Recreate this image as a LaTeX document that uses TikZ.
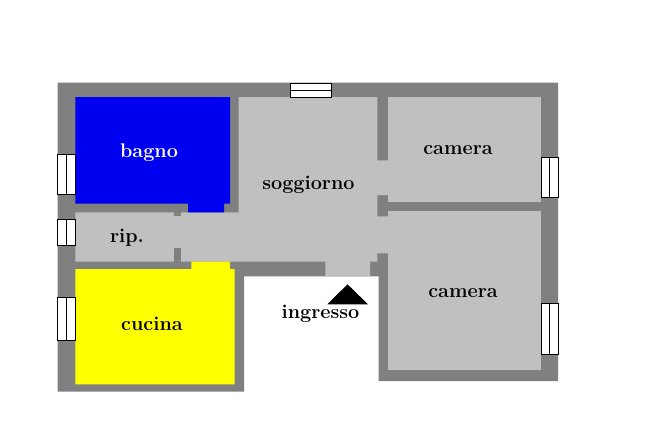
\documentclass[tikz,border=0pt]{standalone}
\definecolor{wallgrey}{HTML}{808080}
\definecolor{roomgrey}{HTML}{C0C0C0}
\definecolor{bagnoblue}{HTML}{0000F0}
\definecolor{cucinayellow}{HTML}{FFFF00}
\tikzset{
  wall/.style={fill=wallgrey},
  room/.style={fill=roomgrey},
  pane/.style={fill=white,draw=black,line width=0.6pt},
  mull/.style={draw=black,line width=1.3pt},
  lbl/.style={inner sep=0pt,font=\fontsize{19.8}{21}\selectfont\bfseries,text=black,anchor=base}
}
\begin{document}
\begin{tikzpicture}[x=1pt,y=-1pt]
\useasboundingbox (0,0) rectangle (650,442);
\fill[white] (0,0) rectangle (650,442);
% outer walls
\fill[wall] (57.5,82.5) -- (558,82.5) -- (558,381) -- (378.7,381) -- (378.7,276.3) -- (244,276.3) -- (244,391.7) -- (57.5,391.7) -- cycle;
% circulation and living room
\fill[room] (238.7,97) -- (377.3,97) -- (377.3,160.3) -- (388,160.3) -- (388,195) -- (377.3,195) -- (377.3,216.3) -- (388,216.3) -- (388,253.3) -- (377.3,253.3) -- (377.3,261.7) -- (370,261.7) -- (370,276.3) -- (325.3,276.3) -- (325.3,261.7) -- (75.3,261.7) -- (75.3,212.3) -- (238.7,212.3) -- cycle;
% stubs between ripostiglio and corridor
\fill[wall] (174,212.3) rectangle (181.3,216.3);
\fill[wall] (174,248.3) rectangle (181.3,261.7);
% cameras
\fill[room] (388,97) rectangle (541.3,201.7);
\fill[room] (388,211) rectangle (541.3,370);
% bagno
\fill[bagnoblue] (75.3,97) -- (230,97) -- (230,203.7) -- (224,203.7) -- (224,212.3) -- (188,212.3) -- (188,203.7) -- (75.3,203.7) -- cycle;
% cucina
\fill[cucinayellow] (75.3,269) -- (191.3,269) -- (191.3,261.7) -- (230,261.7) -- (230,269) -- (234.7,269) -- (234.7,384.3) -- (75.3,384.3) -- cycle;
% windows
\foreach \ya/\yb in {154.3/194.3, 219/245, 297/340.3}{
  \draw[pane] (57.5,\ya) rectangle (75.3,\yb);
  \draw[mull] (66.4,\ya) -- (66.4,\yb);
}
\foreach \ya/\yb in {157/197, 303.3/354.3}{
  \draw[pane] (541.3,\ya) rectangle (558,\yb);
  \draw[mull] (549.7,\ya) -- (549.7,\yb);
}
\draw[pane] (290.7,83) rectangle (331.3,97);
\draw[mull] (290.7,90.3) -- (331.3,90.3);
% entrance arrow
\fill[black] (347.5,284.3) -- (368,304.3) -- (327.3,304.3) -- cycle;
% labels
\node[lbl,text=white] (bagno) at (149,157.3) {bagno};
\node[lbl] (soggiorno) at (308.5,189) {soggiorno};
\node[lbl] (camera1) at (458,154) {camera};
\node[lbl] (camera2) at (463,297) {camera};
\node[lbl] (rip) at (127,242) {rip.};
\node[lbl] (cucina) at (152,330) {cucina};
\node[lbl] (ingresso) at (320.5,318.5) {ingresso};
\end{tikzpicture}
\end{document}
